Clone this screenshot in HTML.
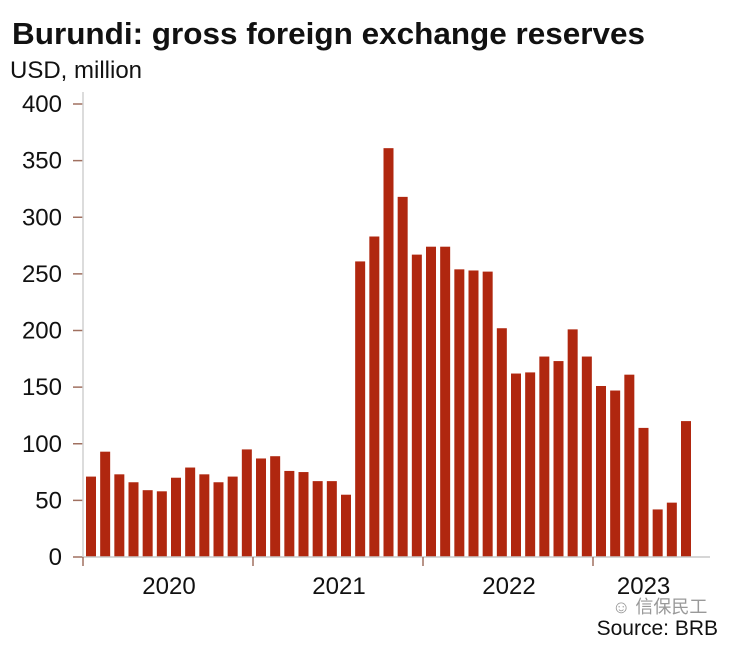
<!DOCTYPE html>
<html><head><meta charset="utf-8"><style>
body{margin:0;background:#fff;width:736px;height:644px;overflow:hidden;font-family:"Liberation Sans",Arial,sans-serif}
</style></head><body>
<svg width="736" height="644" xmlns="http://www.w3.org/2000/svg">
<text x="12" y="44" font-size="31" font-weight="bold" fill="#111" textLength="633" lengthAdjust="spacingAndGlyphs">Burundi: gross foreign exchange reserves</text>
<text x="10" y="78" font-size="24" fill="#111">USD, million</text>
<g id="g"></g>
<text x="612" y="613" font-size="18" fill="#999" font-family="'Liberation Sans','Noto Sans CJK SC',sans-serif">☺ 信保民工</text>
<text x="718" y="635" font-size="21" fill="#111" text-anchor="end">Source: BRB</text>
</svg>
<script>
const values=[71,93,73,66,59,58,70,79,73,66,71,95,87,89,76,75,67,67,55,261,283,361,318,267,274,274,254,253,252,202,162,163,177,173,201,177,151,147,161,114,42,48,120];
const yTicks=[0,50,100,150,200,250,300,350,400];
const years=["2020","2021","2022","2023"];
const NS="http://www.w3.org/2000/svg",g=document.getElementById('g');
const x0=83,step=170/12,y0=557,ppu=(557-104)/400;
const y=v=>y0-v*ppu;
function mk(t,a){const e=document.createElementNS(NS,t);for(const k in a)e.setAttribute(k,a[k]);g.appendChild(e);return e;}
yTicks.forEach(v=>{
 const l=mk('line',{x1:73,x2:83,y1:y(v),y2:y(v),stroke:'#a07060','stroke-width':1.5});
 
 
 const t=mk('text',{x:62,y:y(v)+8,'font-size':24,'text-anchor':'end',fill:'#111'});t.textContent=v;
 
 
});
values.forEach((v,i)=>{
 const r=mk('rect',{x:x0+i*step+3,y:y(v),width:10,height:v*ppu,fill:'#b0270f'});
 
 
});
let a=mk('line',{x1:83,x2:83,y1:92,y2:557,stroke:'#d0d0d0','stroke-width':1.5});


a=mk('line',{x1:83,x2:710,y1:557,y2:557,stroke:'#c8c8c8','stroke-width':1.5});


years.forEach((yr,i)=>{
 const tx=x0+i*170;
 const l=mk('line',{x1:tx,x2:tx,y1:557,y2:566,stroke:'#a07060','stroke-width':1.5});
 
 
 const n=Math.min(12,values.length-i*12);
 const t=mk('text',{x:tx+n*step/2+1,y:594,'font-size':24,'text-anchor':'middle',fill:'#111'});t.textContent=yr;
 
 
});
</script>
</body></html>
